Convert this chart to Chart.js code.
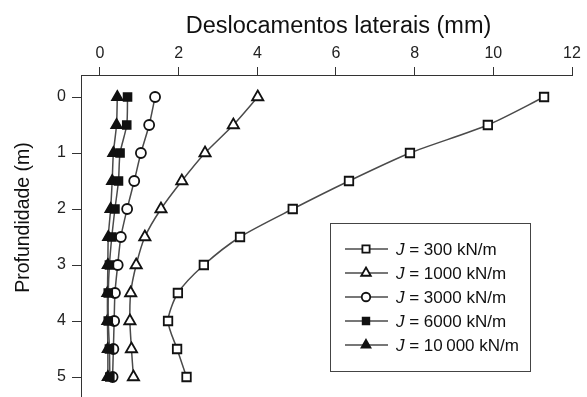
<!DOCTYPE html>
<html><head><meta charset="utf-8">
<script src="https://cdn.jsdelivr.net/npm/chart.js@4.4.0/dist/chart.umd.min.js"></script>
<style>html,body{margin:0;padding:0;background:#fff}canvas{display:block}</style>
</head><body>
<canvas id="c" width="587" height="397"></canvas>
<script>
const depths = [0, 0.5, 1, 1.5, 2, 2.5, 3, 3.5, 4, 4.5, 5];
const seriesLabels = ['300 kN/m', '1000 kN/m', '3000 kN/m', '6000 kN/m', '10\u2009000 kN/m'];
const j300 = [11.29, 9.86, 7.88, 6.33, 4.90, 3.56, 2.64, 1.98, 1.73, 1.96, 2.20];
const j1000 = [4.01, 3.39, 2.67, 2.08, 1.55, 1.14, 0.92, 0.78, 0.76, 0.80, 0.85];
const j3000 = [1.40, 1.25, 1.04, 0.87, 0.69, 0.53, 0.45, 0.38, 0.36, 0.34, 0.32];
const j6000 = [0.70, 0.68, 0.51, 0.47, 0.38, 0.30, 0.24, 0.21, 0.21, 0.24, 0.25];
const j10000 = [0.44, 0.42, 0.34, 0.31, 0.27, 0.21, 0.20, 0.19, 0.19, 0.20, 0.20];
const xTicks = [0, 2, 4, 6, 8, 10, 12];
const yTicks = [0, 1, 2, 3, 4, 5];
const xTitle = 'Deslocamentos laterais (mm)';
const yTitle = 'Profundidade (m)';

const FONT = '"Liberation Sans", Arial, sans-serif';
const LINE = '#4a4a4a';
const MARK = '#111';

function mk(label, vals, style, radius, filled, order) {
  return {
    label: label,
    data: vals.map((v, i) => ({x: v, y: depths[i]})),
    borderColor: LINE,
    borderWidth: 1.5,
    pointStyle: style,
    pointRadius: radius,
    pointHoverRadius: radius,
    pointBackgroundColor: filled ? MARK : '#fff',
    pointBorderColor: MARK,
    pointBorderWidth: 1.8,
    tension: 0.25,
    order: order,
    clip: false
  };
}

const datasets = [
  mk(seriesLabels[0], j300, 'rect', 6, false, 5),
  mk(seriesLabels[1], j1000, 'triangle', 6.5, false, 4),
  mk(seriesLabels[2], j3000, 'circle', 5, false, 3),
  mk(seriesLabels[3], j6000, 'rect', 5.5, true, 1),
  mk(seriesLabels[4], j10000, 'triangle', 6, true, 2)
];

const decor = {
  id: 'decor',
  afterDraw(chart) {
    const ctx = chart.ctx;
    ctx.save();
    ctx.fillStyle = '#111';
    ctx.font = '23.5px ' + FONT;
    ctx.textAlign = 'center';
    ctx.textBaseline = 'alphabetic';
    ctx.fillText(xTitle, 338.5, 33);
    ctx.save();
    ctx.translate(29, 217.5);
    ctx.rotate(-Math.PI / 2);
    ctx.font = '19.5px ' + FONT;
    ctx.fillText(yTitle, 0, 0);
    ctx.restore();
    ctx.fillStyle = '#fff';
    ctx.fillRect(330.5, 223.5, 200, 148);
    ctx.strokeStyle = '#444';
    ctx.lineWidth = 1;
    ctx.strokeRect(330.5, 223.5, 200, 148);
    chart.data.datasets.forEach((ds, i) => {
      const y = 249 + i * 24;
      ctx.strokeStyle = ds.borderColor;
      ctx.lineWidth = 1.5;
      ctx.beginPath();
      ctx.moveTo(345, y);
      ctx.lineTo(388, y);
      ctx.stroke();
      ctx.fillStyle = ds.pointBackgroundColor;
      ctx.strokeStyle = ds.pointBorderColor;
      ctx.lineWidth = ds.pointBorderWidth;
      Chart.helpers.drawPoint(ctx, {pointStyle: ds.pointStyle, radius: ds.pointRadius * 0.85, borderWidth: ds.pointBorderWidth, rotation: 0}, 366, y);
      ctx.fillStyle = '#111';
      ctx.textAlign = 'left';
      ctx.textBaseline = 'alphabetic';
      ctx.font = 'italic 17px ' + FONT;
      ctx.fillText('J', 396, y + 5.8);
      const w = ctx.measureText('J').width;
      ctx.font = '17px ' + FONT;
      ctx.fillText(' = ' + ds.label, 396 + w, y + 5.8);
    });
    ctx.restore();
  }
};

function zeroPad(s) { s.paddingTop = 0; s.paddingBottom = 0; s.paddingLeft = 0; s.paddingRight = 0; }

new Chart(document.getElementById('c'), {
  type: 'line',
  data: {datasets: datasets},
  options: {
    responsive: false,
    animation: false,
    devicePixelRatio: 1,
    layout: {autoPadding: false, padding: {left: 0, top: 0, right: 15, bottom: 0}},
    plugins: {legend: {display: false}, tooltip: {enabled: false}},
    scales: {
      x: {
        type: 'linear',
        position: 'top',
        min: -0.483,
        max: 12,
        afterBuildTicks: s => { s.ticks = xTicks.map(v => ({value: v})); },
        afterFit: s => { s.height = 75; zeroPad(s); },
        grid: {display: true, drawOnChartArea: false, drawTicks: true, tickLength: 8, color: '#333', lineWidth: 1},
        border: {display: true, color: '#333', width: 1},
        ticks: {font: {family: FONT, size: 16}, color: '#222', padding: 4, maxRotation: 0, autoSkip: false}
      },
      y: {
        type: 'linear',
        position: 'left',
        reverse: true,
        min: -0.393,
        max: 5.357,
        afterBuildTicks: s => { s.ticks = yTicks.map(v => ({value: v})); },
        afterFit: s => { s.width = 81; zeroPad(s); },
        grid: {display: true, drawOnChartArea: false, drawTicks: true, tickLength: 9, color: '#333', lineWidth: 1},
        border: {display: true, color: '#333', width: 1},
        ticks: {font: {family: FONT, size: 16, lineHeight: 0.05}, color: '#222', padding: 6, autoSkip: false}
      }
    }
  },
  plugins: [decor]
});
</script>
</body></html>
